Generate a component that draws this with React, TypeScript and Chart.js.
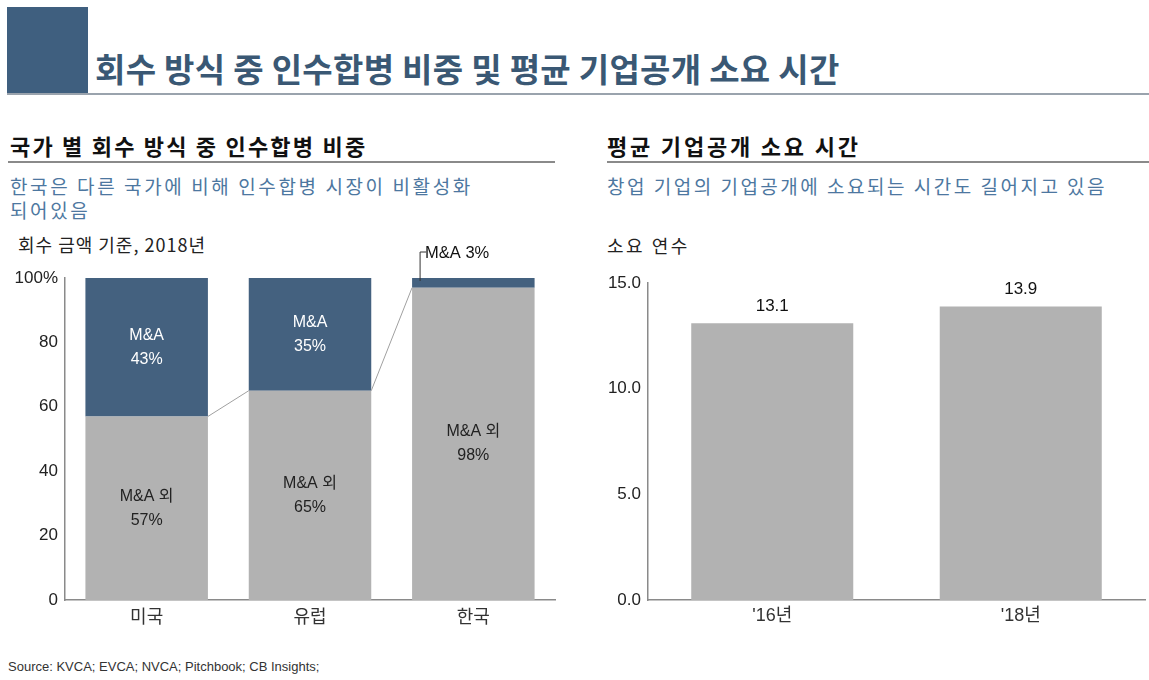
import React, { useEffect, useRef } from "react";
import { Chart, registerables } from "chart.js";

Chart.register(...registerables);

// ---- data ----
const countries: string[] = ["미국", "유럽", "한국"];
const nonMAShare: number[] = [57, 65, 97];
const maShare: number[] = [43, 35, 3];
const nonMALabels: string[] = ["57%", "65%", "98%"];
const maLabels: string[] = ["43%", "35%", "3%"];
const leftTicks: number[] = [0, 20, 40, 60, 80, 100];

const years: string[] = ["'16년", "'18년"];
const ipoYears: number[] = [13.1, 13.9];
const rightTicks: number[] = [0, 5, 10, 15];

const DARK = "#44617f";
const GRAY = "#b2b2b2";
const NUMFONT = "'Liberation Sans', Arial, 'Noto Sans CJK KR', sans-serif";
const KRFONT = "'Noto Sans CJK KR', 'Liberation Sans', sans-serif";

const leftLabelPlugin = {
  id: "leftLabels",
  afterDatasetsDraw(chart: any) {
    const ctx = chart.ctx;
    const m0 = chart.getDatasetMeta(0);
    const m1 = chart.getDatasetMeta(1);
    ctx.save();
    // connectors
    ctx.strokeStyle = "#a0a0a0";
    ctx.lineWidth = 1;
    for (let i = 0; i < m0.data.length - 1; i++) {
      const a = m0.data[i];
      const b = m0.data[i + 1];
      ctx.beginPath();
      ctx.moveTo(a.x + a.width / 2, a.y);
      ctx.lineTo(b.x - b.width / 2, b.y);
      ctx.stroke();
    }
    ctx.textAlign = "center";
    ctx.textBaseline = "middle";
    ctx.font = `16px ${NUMFONT}`;
    // gray segment labels (dark text)
    ctx.fillStyle = "#222222";
    m0.data.forEach((el: any, i: number) => {
      const cy = (el.y + el.base) / 2;
      ctx.fillText("M&A 외", el.x, cy - 12);
      ctx.fillText(nonMALabels[i], el.x, cy + 12);
    });
    // dark segment labels (white text)
    ctx.fillStyle = "#ffffff";
    m1.data.forEach((el: any, i: number) => {
      if (maShare[i] < 10) return;
      const cy = (el.y + el.base) / 2;
      ctx.fillText("M&A", el.x, cy - 12);
      ctx.fillText(maLabels[i], el.x, cy + 12);
    });
    // callout for small segment
    m1.data.forEach((el: any, i: number) => {
      if (maShare[i] >= 10) return;
      const x = el.x - el.width / 2 + 8;
      const y0 = el.y + 3;
      const y1 = el.y - 26;
      ctx.strokeStyle = "#333";
      ctx.beginPath();
      ctx.moveTo(x, y0);
      ctx.lineTo(x, y1);
      ctx.lineTo(x + 6, y1);
      ctx.stroke();
      ctx.fillStyle = "#111";
      ctx.textAlign = "left";
      ctx.font = `16.5px ${NUMFONT}`;
      ctx.fillText("M&A " + maLabels[i], x + 5, y1 + 1);
    });
    ctx.restore();
  },
};

const rightLabelPlugin = {
  id: "rightLabels",
  afterDatasetsDraw(chart: any) {
    const ctx = chart.ctx;
    const m = chart.getDatasetMeta(0);
    ctx.save();
    ctx.fillStyle = "#111";
    ctx.textAlign = "center";
    ctx.textBaseline = "middle";
    ctx.font = `17px ${NUMFONT}`;
    m.data.forEach((el: any, i: number) => {
      ctx.fillText(ipoYears[i].toFixed(1), el.x, el.y - 17);
    });
    ctx.restore();
  },
};

function LeftChart() {
  const ref = useRef<HTMLCanvasElement>(null);
  useEffect(() => {
    const chart = new Chart(ref.current as HTMLCanvasElement, {
      type: "bar",
      data: {
        labels: countries,
        datasets: [
          { data: nonMAShare, backgroundColor: GRAY, barPercentage: 0.75, categoryPercentage: 1 },
          { data: maShare, backgroundColor: DARK, barPercentage: 0.75, categoryPercentage: 1 },
        ],
      },
      options: {
        animation: false,
        responsive: false,
        maintainAspectRatio: false,
        layout: { padding: { top: 48, right: 5, left: 0, bottom: 0 } },
        plugins: { legend: { display: false }, tooltip: { enabled: false } },
        scales: {
          x: {
            stacked: true,
            grid: { display: false, drawTicks: false },
            border: { display: true, color: "#8a8a8a", width: 1.5 },
            ticks: { color: "#333", font: { family: KRFONT, size: 18 }, padding: 5 },
            afterFit: (s: any) => { s.height = 38; },
          },
          y: {
            stacked: true,
            min: 0,
            max: 100,
            afterBuildTicks: (s: any) => { s.ticks = leftTicks.map((v) => ({ value: v })); },
            grid: { display: false, drawTicks: false },
            border: { display: true, color: "#8a8a8a", width: 1.5 },
            ticks: {
              color: "#222",
              font: { family: NUMFONT, size: 17 },
              padding: 7,
              callback: (v: any) => (v === 100 ? "100%" : String(v)),
            },
            afterFit: (s: any) => { s.width = 55; },
          },
        },
      },
      plugins: [leftLabelPlugin],
    } as any);
    return () => chart.destroy();
  }, []);
  return <canvas ref={ref} width={550} height={408} style={{ position: "absolute", left: 10, top: 230 }} />;
}

function RightChart() {
  const ref = useRef<HTMLCanvasElement>(null);
  useEffect(() => {
    const chart = new Chart(ref.current as HTMLCanvasElement, {
      type: "bar",
      data: {
        labels: years,
        datasets: [
          { data: ipoYears, backgroundColor: GRAY, barPercentage: 0.652, categoryPercentage: 1 },
        ],
      },
      options: {
        animation: false,
        responsive: false,
        maintainAspectRatio: false,
        layout: { padding: { top: 17, right: 4, left: 0, bottom: 0 } },
        plugins: { legend: { display: false }, tooltip: { enabled: false } },
        scales: {
          x: {
            grid: { display: false, drawTicks: false },
            border: { display: true, color: "#8a8a8a", width: 1.5 },
            ticks: { color: "#333", font: { family: NUMFONT, size: 18 }, padding: 5 },
            afterFit: (s: any) => { s.height = 38; },
          },
          y: {
            min: 0,
            max: 15,
            afterBuildTicks: (s: any) => { s.ticks = rightTicks.map((v) => ({ value: v })); },
            grid: { display: false, drawTicks: false },
            border: { display: true, color: "#8a8a8a", width: 1.5 },
            ticks: {
              color: "#222",
              font: { family: NUMFONT, size: 17 },
              padding: 7,
              callback: (v: any) => Number(v).toFixed(1),
            },
            afterFit: (s: any) => { s.width = 48; },
          },
        },
      },
      plugins: [rightLabelPlugin],
    } as any);
    return () => chart.destroy();
  }, []);
  return <canvas ref={ref} width={549} height={372} style={{ position: "absolute", left: 600, top: 266 }} />;
}

const txt = (
  left: number,
  cy: number,
  size: number,
  color: string,
  weight: number,
  content: string,
  extra: React.CSSProperties = {}
) => (
  <div
    style={{
      position: "absolute",
      left,
      top: cy - size * 0.7,
      height: size * 1.4,
      lineHeight: `${size * 1.4}px`,
      fontSize: size,
      fontWeight: weight,
      color,
      fontFamily: KRFONT,
      whiteSpace: "nowrap",
      ...extra,
    }}
  >
    {content}
  </div>
);

export default function App() {
  useEffect(() => {
    document.body.style.margin = "0";
  }, []);
  return (
    <div style={{ position: "absolute", left: 0, top: 0, width: 1149, height: 680, background: "#fff", overflow: "hidden" }}>
      <div style={{ position: "absolute", left: 7, top: 7, width: 81, height: 87, background: "#3f5f7f" }} />
      <div style={{ position: "absolute", left: 7, top: 93, width: 1142, height: 2, background: "#9aa3ad" }} />
      {txt(95, 68, 33, "#3a5874", 700, "회수 방식 중 인수합병 비중 및 평균 기업공개 소요 시간", { letterSpacing: 0.3 })}

      {txt(10, 145, 22, "#111", 700, "국가 별 회수 방식 중 인수합병 비중", { letterSpacing: 2.2 })}
      <div style={{ position: "absolute", left: 8, top: 161, width: 547, height: 2, background: "#8a8a8a" }} />
      {txt(10, 186, 19, "#4d77a0", 400, "한국은 다른 국가에 비해 인수합병 시장이 비활성화", { letterSpacing: 2.6 })}
      {txt(10, 210, 19, "#4d77a0", 400, "되어있음", { letterSpacing: 2.6 })}
      {txt(18, 245, 18, "#222", 400, "회수 금액 기준, 2018년", { letterSpacing: 1.0 })}

      {txt(607, 145, 22, "#111", 700, "평균 기업공개 소요 시간", { letterSpacing: 2.8 })}
      <div style={{ position: "absolute", left: 607, top: 161, width: 542, height: 2, background: "#8a8a8a" }} />
      {txt(607, 186, 19, "#4d77a0", 400, "창업 기업의 기업공개에 소요되는 시간도 길어지고 있음", { letterSpacing: 2.5 })}
      {txt(607, 246, 18, "#222", 400, "소요 연수", { letterSpacing: 2.5 })}

      <LeftChart />
      <RightChart />

      {txt(8, 667, 13, "#333", 400, "Source: KVCA; EVCA; NVCA; Pitchbook; CB Insights;", { fontFamily: NUMFONT })}
    </div>
  );
}
